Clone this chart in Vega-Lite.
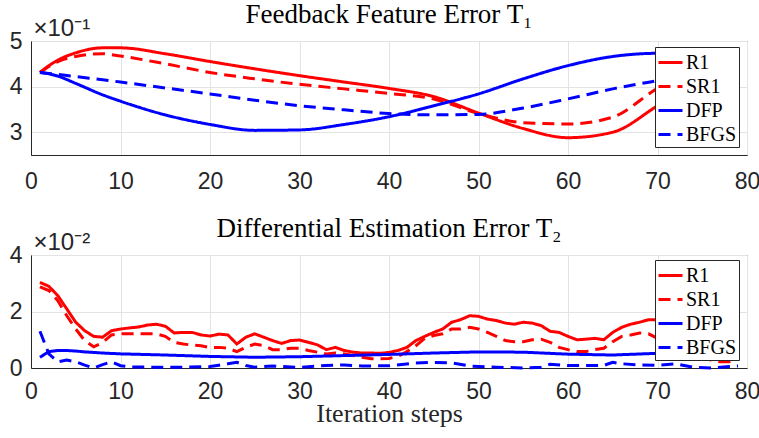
{
  "$schema": "https://vega.github.io/schema/vega-lite/v6.json",
  "background": "white",
  "padding": {"left": 8, "top": 0, "right": 0, "bottom": 2},
  "bounds": "flush",
  "spacing": 100,
  "config": {
    "view": {"stroke": "#262626", "strokeWidth": 1},
    "axis": {
      "labelFont": "Liberation Sans", "labelFontSize": 23, "labelColor": "#262626",
      "domainColor": "#262626", "grid": true, "gridColor": "#e3e3e3", "gridWidth": 1,
      "ticks": false, "tickSize": 0, "labelFlush": false, "labelOverlap": false,
      "titleFont": "Liberation Serif", "titleFontWeight": "normal", "titleColor": "#262626"
    },
    "axisX": {"labelPadding": 15},
    "axisY": {"labelPadding": 9},
    "title": {"font": "Liberation Serif", "fontSize": 27, "fontWeight": "normal", "color": "black", "frame": "group", "anchor": "middle", "baseline": "alphabetic", "offset": -13},
    "legend": {
      "orient": "none", "fillColor": "white", "strokeColor": "#262626", "padding": 2,
      "symbolType": "stroke", "symbolSize": 576, "symbolStrokeWidth": 3,
      "labelFont": "Liberation Serif", "labelFontSize": 20, "labelColor": "black", "labelOffset": 2,
      "rowPadding": 0, "symbolLimit": 0
    }
  },
  "datasets": {
    "t1": [
      {"step":1,"method":"R1","value":4.31},{"step":2,"method":"R1","value":4.46},{"step":3,"method":"R1","value":4.58},{"step":5,"method":"R1","value":4.74},{"step":8,"method":"R1","value":4.85},{"step":10,"method":"R1","value":4.85},{"step":15,"method":"R1","value":4.72},{"step":20,"method":"R1","value":4.55},{"step":25,"method":"R1","value":4.39},{"step":30,"method":"R1","value":4.24},{"step":35,"method":"R1","value":4.1},{"step":40,"method":"R1","value":3.96},{"step":45,"method":"R1","value":3.78},{"step":50,"method":"R1","value":3.42},{"step":55,"method":"R1","value":3.08},{"step":60,"method":"R1","value":2.88},{"step":65,"method":"R1","value":3.0},{"step":70,"method":"R1","value":3.58},{"step":75,"method":"R1","value":4.2},{"step":79,"method":"R1","value":4.5},
      {"step":1,"method":"SR1","value":4.31},{"step":2,"method":"SR1","value":4.44},{"step":3,"method":"SR1","value":4.55},{"step":5,"method":"SR1","value":4.66},{"step":8,"method":"SR1","value":4.72},{"step":10,"method":"SR1","value":4.67},{"step":15,"method":"SR1","value":4.5},{"step":20,"method":"SR1","value":4.31},{"step":25,"method":"SR1","value":4.17},{"step":30,"method":"SR1","value":4.05},{"step":35,"method":"SR1","value":3.95},{"step":40,"method":"SR1","value":3.85},{"step":45,"method":"SR1","value":3.73},{"step":50,"method":"SR1","value":3.41},{"step":55,"method":"SR1","value":3.21},{"step":60,"method":"SR1","value":3.18},{"step":65,"method":"SR1","value":3.33},{"step":70,"method":"SR1","value":3.96},{"step":75,"method":"SR1","value":4.4},{"step":79,"method":"SR1","value":4.6},
      {"step":1,"method":"DFP","value":4.31},{"step":2,"method":"DFP","value":4.28},{"step":3,"method":"DFP","value":4.23},{"step":5,"method":"DFP","value":4.07},{"step":8,"method":"DFP","value":3.82},{"step":10,"method":"DFP","value":3.68},{"step":15,"method":"DFP","value":3.38},{"step":20,"method":"DFP","value":3.17},{"step":25,"method":"DFP","value":3.04},{"step":30,"method":"DFP","value":3.05},{"step":35,"method":"DFP","value":3.17},{"step":40,"method":"DFP","value":3.34},{"step":45,"method":"DFP","value":3.58},{"step":50,"method":"DFP","value":3.84},{"step":55,"method":"DFP","value":4.17},{"step":60,"method":"DFP","value":4.46},{"step":65,"method":"DFP","value":4.66},{"step":70,"method":"DFP","value":4.73},{"step":75,"method":"DFP","value":4.72},{"step":79,"method":"DFP","value":4.7},
      {"step":1,"method":"BFGS","value":4.31},{"step":2,"method":"BFGS","value":4.29},{"step":3,"method":"BFGS","value":4.27},{"step":5,"method":"BFGS","value":4.22},{"step":8,"method":"BFGS","value":4.15},{"step":10,"method":"BFGS","value":4.1},{"step":15,"method":"BFGS","value":3.97},{"step":20,"method":"BFGS","value":3.84},{"step":25,"method":"BFGS","value":3.7},{"step":30,"method":"BFGS","value":3.58},{"step":35,"method":"BFGS","value":3.49},{"step":40,"method":"BFGS","value":3.41},{"step":45,"method":"BFGS","value":3.38},{"step":50,"method":"BFGS","value":3.39},{"step":55,"method":"BFGS","value":3.53},{"step":60,"method":"BFGS","value":3.73},{"step":65,"method":"BFGS","value":3.95},{"step":70,"method":"BFGS","value":4.13},{"step":75,"method":"BFGS","value":4.3},{"step":79,"method":"BFGS","value":4.4}
    ],
    "t2": [
      {"step":1,"method":"R1","value":3.03},{"step":2,"method":"R1","value":2.89},{"step":3,"method":"R1","value":2.56},{"step":4,"method":"R1","value":2.09},{"step":5,"method":"R1","value":1.62},{"step":6,"method":"R1","value":1.32},{"step":7,"method":"R1","value":1.12},{"step":8,"method":"R1","value":1.09},{"step":9,"method":"R1","value":1.32},{"step":10,"method":"R1","value":1.38},
      {"step":11,"method":"R1","value":1.42},{"step":12,"method":"R1","value":1.45},{"step":13,"method":"R1","value":1.52},{"step":14,"method":"R1","value":1.55},{"step":15,"method":"R1","value":1.48},{"step":16,"method":"R1","value":1.24},{"step":17,"method":"R1","value":1.26},{"step":18,"method":"R1","value":1.26},{"step":19,"method":"R1","value":1.17},{"step":20,"method":"R1","value":1.13},
      {"step":21,"method":"R1","value":1.2},{"step":22,"method":"R1","value":1.17},{"step":23,"method":"R1","value":0.85},{"step":24,"method":"R1","value":1.09},{"step":25,"method":"R1","value":1.21},{"step":26,"method":"R1","value":1.09},{"step":27,"method":"R1","value":0.97},{"step":28,"method":"R1","value":0.87},{"step":29,"method":"R1","value":0.97},{"step":30,"method":"R1","value":0.99},
      {"step":31,"method":"R1","value":0.91},{"step":32,"method":"R1","value":0.82},{"step":33,"method":"R1","value":0.65},{"step":34,"method":"R1","value":0.73},{"step":35,"method":"R1","value":0.62},{"step":36,"method":"R1","value":0.56},{"step":37,"method":"R1","value":0.53},{"step":38,"method":"R1","value":0.53},{"step":39,"method":"R1","value":0.52},{"step":40,"method":"R1","value":0.55},
      {"step":41,"method":"R1","value":0.62},{"step":42,"method":"R1","value":0.73},{"step":43,"method":"R1","value":0.97},{"step":44,"method":"R1","value":1.12},{"step":45,"method":"R1","value":1.26},{"step":46,"method":"R1","value":1.38},{"step":47,"method":"R1","value":1.62},{"step":48,"method":"R1","value":1.71},{"step":49,"method":"R1","value":1.85},{"step":50,"method":"R1","value":1.83},
      {"step":51,"method":"R1","value":1.73},{"step":52,"method":"R1","value":1.68},{"step":53,"method":"R1","value":1.59},{"step":54,"method":"R1","value":1.55},{"step":55,"method":"R1","value":1.62},{"step":56,"method":"R1","value":1.59},{"step":57,"method":"R1","value":1.5},{"step":58,"method":"R1","value":1.3},{"step":59,"method":"R1","value":1.26},{"step":60,"method":"R1","value":1.12},
      {"step":61,"method":"R1","value":1.0},{"step":62,"method":"R1","value":1.02},{"step":63,"method":"R1","value":1.05},{"step":64,"method":"R1","value":1.0},{"step":65,"method":"R1","value":1.26},{"step":66,"method":"R1","value":1.44},{"step":67,"method":"R1","value":1.55},{"step":68,"method":"R1","value":1.62},{"step":69,"method":"R1","value":1.71},{"step":70,"method":"R1","value":1.71},
      {"step":71,"method":"R1","value":1.6},{"step":72,"method":"R1","value":1.45},{"step":73,"method":"R1","value":1.3},{"step":74,"method":"R1","value":1.15},{"step":75,"method":"R1","value":1.0},{"step":76,"method":"R1","value":0.85},{"step":77,"method":"R1","value":0.7},{"step":78,"method":"R1","value":0.55},{"step":79,"method":"R1","value":0.45},
      {"step":1,"method":"SR1","value":2.87},{"step":2,"method":"SR1","value":2.74},{"step":3,"method":"SR1","value":2.38},{"step":4,"method":"SR1","value":1.85},{"step":5,"method":"SR1","value":1.38},{"step":6,"method":"SR1","value":0.97},{"step":7,"method":"SR1","value":0.75},{"step":8,"method":"SR1","value":0.9},{"step":9,"method":"SR1","value":1.17},{"step":10,"method":"SR1","value":1.21},
      {"step":11,"method":"SR1","value":1.21},{"step":12,"method":"SR1","value":1.21},{"step":13,"method":"SR1","value":1.21},{"step":14,"method":"SR1","value":1.21},{"step":15,"method":"SR1","value":1.12},{"step":16,"method":"SR1","value":0.91},{"step":17,"method":"SR1","value":0.85},{"step":18,"method":"SR1","value":0.81},{"step":19,"method":"SR1","value":0.79},{"step":20,"method":"SR1","value":0.72},
      {"step":21,"method":"SR1","value":0.73},{"step":22,"method":"SR1","value":0.7},{"step":23,"method":"SR1","value":0.58},{"step":24,"method":"SR1","value":0.73},{"step":25,"method":"SR1","value":0.85},{"step":26,"method":"SR1","value":0.79},{"step":27,"method":"SR1","value":0.65},{"step":28,"method":"SR1","value":0.65},{"step":29,"method":"SR1","value":0.7},{"step":30,"method":"SR1","value":0.7},
      {"step":31,"method":"SR1","value":0.62},{"step":32,"method":"SR1","value":0.56},{"step":33,"method":"SR1","value":0.5},{"step":34,"method":"SR1","value":0.53},{"step":35,"method":"SR1","value":0.5},{"step":36,"method":"SR1","value":0.44},{"step":37,"method":"SR1","value":0.38},{"step":38,"method":"SR1","value":0.33},{"step":39,"method":"SR1","value":0.33},{"step":40,"method":"SR1","value":0.34},
      {"step":41,"method":"SR1","value":0.41},{"step":42,"method":"SR1","value":0.58},{"step":43,"method":"SR1","value":0.79},{"step":44,"method":"SR1","value":1.05},{"step":45,"method":"SR1","value":1.15},{"step":46,"method":"SR1","value":1.21},{"step":47,"method":"SR1","value":1.38},{"step":48,"method":"SR1","value":1.38},{"step":49,"method":"SR1","value":1.44},{"step":50,"method":"SR1","value":1.38},
      {"step":51,"method":"SR1","value":1.26},{"step":52,"method":"SR1","value":1.12},{"step":53,"method":"SR1","value":0.97},{"step":54,"method":"SR1","value":0.93},{"step":55,"method":"SR1","value":0.93},{"step":56,"method":"SR1","value":1.0},{"step":57,"method":"SR1","value":1.02},{"step":58,"method":"SR1","value":0.91},{"step":59,"method":"SR1","value":0.73},{"step":60,"method":"SR1","value":0.65},
      {"step":61,"method":"SR1","value":0.58},{"step":62,"method":"SR1","value":0.58},{"step":63,"method":"SR1","value":0.65},{"step":64,"method":"SR1","value":0.7},{"step":65,"method":"SR1","value":0.93},{"step":66,"method":"SR1","value":1.12},{"step":67,"method":"SR1","value":1.17},{"step":68,"method":"SR1","value":1.24},{"step":69,"method":"SR1","value":1.21},{"step":70,"method":"SR1","value":1.05},
      {"step":71,"method":"SR1","value":0.85},{"step":72,"method":"SR1","value":0.7},{"step":73,"method":"SR1","value":0.55},{"step":74,"method":"SR1","value":0.45},{"step":75,"method":"SR1","value":0.35},{"step":76,"method":"SR1","value":0.28},{"step":77,"method":"SR1","value":0.22},{"step":78,"method":"SR1","value":0.22},{"step":79,"method":"SR1","value":0.35},
      {"step":1,"method":"DFP","value":0.38},{"step":2,"method":"DFP","value":0.58},{"step":3,"method":"DFP","value":0.62},{"step":4,"method":"DFP","value":0.62},{"step":5,"method":"DFP","value":0.6},{"step":6,"method":"DFP","value":0.57},{"step":7,"method":"DFP","value":0.55},{"step":8,"method":"DFP","value":0.53},{"step":10,"method":"DFP","value":0.5},{"step":15,"method":"DFP","value":0.46},{"step":20,"method":"DFP","value":0.41},{"step":25,"method":"DFP","value":0.38},{"step":30,"method":"DFP","value":0.4},{"step":35,"method":"DFP","value":0.44},{"step":40,"method":"DFP","value":0.48},{"step":45,"method":"DFP","value":0.53},{"step":50,"method":"DFP","value":0.57},{"step":55,"method":"DFP","value":0.56},{"step":60,"method":"DFP","value":0.49},{"step":65,"method":"DFP","value":0.46},{"step":70,"method":"DFP","value":0.52},{"step":75,"method":"DFP","value":0.52},{"step":79,"method":"DFP","value":0.5},
      {"step":1,"method":"BFGS","value":1.3},{"step":2,"method":"BFGS","value":0.5},{"step":3,"method":"BFGS","value":0.22},{"step":4,"method":"BFGS","value":0.28},{"step":5,"method":"BFGS","value":0.22},{"step":6,"method":"BFGS","value":0.1},{"step":7,"method":"BFGS","value":0.0},{"step":8,"method":"BFGS","value":0.12},{"step":9,"method":"BFGS","value":0.22},{"step":10,"method":"BFGS","value":0.08},{"step":11,"method":"BFGS","value":0.04},{"step":13,"method":"BFGS","value":0.03},{"step":15,"method":"BFGS","value":0.03},{"step":17,"method":"BFGS","value":0.03},{"step":19,"method":"BFGS","value":0.04},{"step":20,"method":"BFGS","value":0.05},{"step":21,"method":"BFGS","value":0.1},{"step":22,"method":"BFGS","value":0.15},{"step":23,"method":"BFGS","value":0.2},{"step":24,"method":"BFGS","value":0.09},{"step":25,"method":"BFGS","value":0.03},{"step":27,"method":"BFGS","value":0.07},{"step":30,"method":"BFGS","value":0.02},{"step":33,"method":"BFGS","value":0.09},{"step":35,"method":"BFGS","value":0.11},{"step":37,"method":"BFGS","value":0.07},{"step":40,"method":"BFGS","value":0.08},{"step":43,"method":"BFGS","value":0.18},{"step":45,"method":"BFGS","value":0.2},{"step":47,"method":"BFGS","value":0.18},{"step":49,"method":"BFGS","value":0.07},{"step":52,"method":"BFGS","value":0.03},{"step":55,"method":"BFGS","value":0.0},{"step":57,"method":"BFGS","value":0.03},{"step":58,"method":"BFGS","value":0.13},{"step":60,"method":"BFGS","value":0.09},{"step":62,"method":"BFGS","value":0.09},{"step":64,"method":"BFGS","value":0.09},{"step":65,"method":"BFGS","value":0.2},{"step":66,"method":"BFGS","value":0.15},{"step":68,"method":"BFGS","value":0.11},{"step":70,"method":"BFGS","value":0.09},{"step":72,"method":"BFGS","value":0.15},{"step":74,"method":"BFGS","value":0.03},{"step":76,"method":"BFGS","value":0.0},{"step":78,"method":"BFGS","value":0.05},{"step":79,"method":"BFGS","value":0.07}
    ]
  },
  "resolve": {"scale": {"y": "independent"}, "legend": {"color": "independent", "strokeDash": "independent"}},
  "vconcat": [
    {
      "width": 716, "height": 114,
      "title": {"text": "Feedback Feature Error T₁"},
      "data": {"name": "t1"},
      "mark": {"type": "line", "strokeWidth": 3, "interpolate": "monotone"},
      "encoding": {
        "x": {"field": "step", "type": "quantitative", "scale": {"domain": [0, 80], "nice": false},
              "axis": {"values": [0,10,20,30,40,50,60,70,80], "title": null}},
        "y": {"field": "value", "type": "quantitative", "scale": {"domain": [2.5, 5], "nice": false, "zero": false},
              "axis": {"values": [3,4,5], "title": "×10⁻¹", "titleAngle": 0, "titleX": 2, "titleY": -6, "titleAlign": "left", "titleBaseline": "alphabetic", "titleFont": "Liberation Sans", "titleFontSize": 24}},
        "color": {"field": "method", "type": "nominal", "sort": ["R1","SR1","DFP","BFGS"],
                  "scale": {"domain": ["R1","SR1","DFP","BFGS"], "range": ["#ff0000","#ff0000","#0000ff","#0000ff"]},
                  "legend": {"title": null, "orient": "none", "legendX": 624, "legendY": 6}},
        "strokeDash": {"field": "method", "type": "nominal", "sort": ["R1","SR1","DFP","BFGS"],
                  "scale": {"domain": ["R1","SR1","DFP","BFGS"], "range": [[1,0],[12,7],[1,0],[12,7]]},
                  "legend": {"title": null, "orient": "none", "legendX": 624, "legendY": 6}}
      }
    },
    {
      "width": 716, "height": 113,
      "title": {"text": "Differential Estimation Error T₂"},
      "data": {"name": "t2"},
      "mark": {"type": "line", "strokeWidth": 3},
      "encoding": {
        "x": {"field": "step", "type": "quantitative", "scale": {"domain": [0, 80], "nice": false},
              "axis": {"values": [0,10,20,30,40,50,60,70,80], "labelPadding": 12, "title": "Iteration steps", "titleFontSize": 26, "titleY": 53, "titleBaseline": "alphabetic"}},
        "y": {"field": "value", "type": "quantitative", "scale": {"domain": [0, 4], "nice": false},
              "axis": {"values": [0,2,4], "title": "×10⁻²", "titleAngle": 0, "titleX": 2, "titleY": -6, "titleAlign": "left", "titleBaseline": "alphabetic", "titleFont": "Liberation Sans", "titleFontSize": 24}},
        "color": {"field": "method", "type": "nominal", "sort": ["R1","SR1","DFP","BFGS"],
                  "scale": {"domain": ["R1","SR1","DFP","BFGS"], "range": ["#ff0000","#ff0000","#0000ff","#0000ff"]},
                  "legend": {"title": null, "orient": "none", "legendX": 624, "legendY": 5}},
        "strokeDash": {"field": "method", "type": "nominal", "sort": ["R1","SR1","DFP","BFGS"],
                  "scale": {"domain": ["R1","SR1","DFP","BFGS"], "range": [[1,0],[12,7],[1,0],[12,7]]},
                  "legend": {"title": null, "orient": "none", "legendX": 624, "legendY": 5}}
      }
    }
  ]
}
